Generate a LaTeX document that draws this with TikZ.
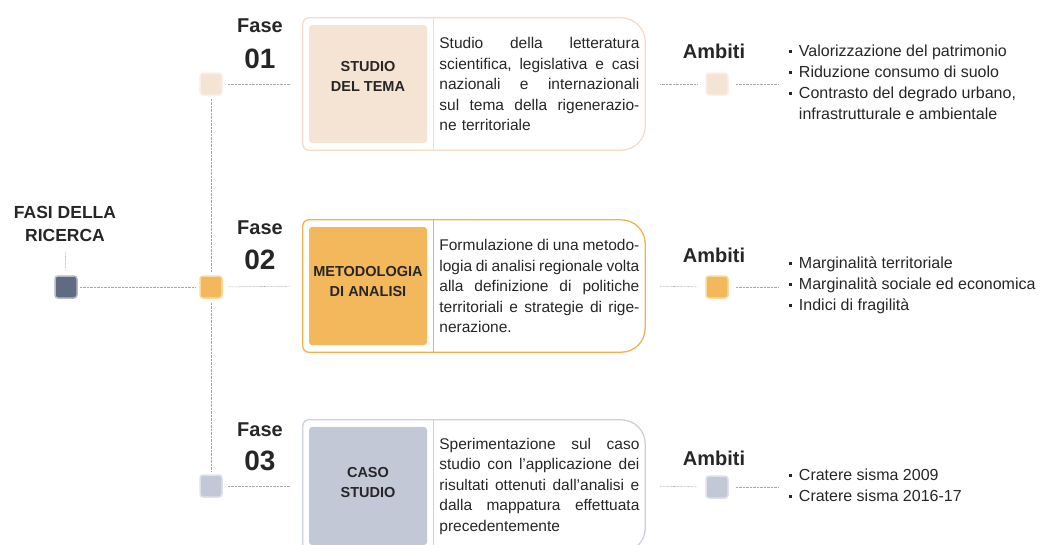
\documentclass[tikz,border=0pt]{standalone}
\usepackage{fontspec}
\setmainfont{Liberation Sans}
\usetikzlibrary{positioning}

\definecolor{pesca}{HTML}{F5E3D3}
\definecolor{pescabordo}{HTML}{F3DCC8}
\definecolor{pescachiaro}{HTML}{FBF0E7}
\definecolor{arancio}{HTML}{F2B85B}
\definecolor{aranciobordo}{HTML}{F0B24E}
\definecolor{aranciochiaro}{HTML}{F9DA9E}
\definecolor{grigio}{HTML}{C3C8D6}
\definecolor{grigiobordo}{HTML}{CBD0DB}
\definecolor{grigiochiaro}{HTML}{DEE1E9}
\definecolor{ardesia}{HTML}{5F6A83}
\definecolor{ardesiachiaro}{HTML}{B3B9C7}
\definecolor{testo}{HTML}{262626}
\definecolor{punteggiato}{HTML}{A6A6A6}

\newcommand{\riga}[1]{\makebox[200pt][s]{#1}\\}
\newcommand{\voce}{\makebox[10pt][l]{\rule[0.22em]{3pt}{3pt}}}

\begin{document}
\begin{tikzpicture}[
        x=1pt, y=-1pt,
        % --- stili ---
        every node/.style={text=testo, inner sep=0pt},
        quad/.style={rectangle, rounded corners=3pt, minimum size=22pt, line width=1.5pt},
        cornice/.style={rectangle, minimum width=342pt, minimum height=132pt},
        blocco/.style={rectangle, rounded corners=3pt, minimum width=118pt, minimum height=118pt},
        titolo/.style={align=center, font=\fontsize{14.5}{20}\selectfont\bfseries},
        fase/.style={font=\fontsize{20}{22}\selectfont\bfseries},
        numero/.style={font=\fontsize{28}{30}\selectfont\bfseries},
        ambiti/.style={font=\fontsize{20}{22}\selectfont\bfseries},
        descr/.style={text width=200pt, align=left, font=\fontsize{15.5}{20.5}\selectfont},
        lista/.style={align=left, font=\fontsize{16}{21}\selectfont},
        punti/.style={draw=punteggiato, line width=0.6pt, dash pattern=on 0.7pt off 0.7pt},
        bordo/.style={line width=1.3pt}
        % --------------------
    ]
    \useasboundingbox (0,0) rectangle (1044,544);

    % radice
    \node[align=center, font=\fontsize{17.5}{23}\selectfont\bfseries] (fasi) at (65,224) {FASI DELLA\\RICERCA};
    \node[quad, fill=ardesia, draw=ardesiachiaro] (q0) at (66,287) {};

    % --- Fase 01 ---
    \node[cornice] (f1) at (474,84) {};
    \draw[bordo, draw=pescabordo, rounded corners=6pt] (f1.south) -| (f1.west) |- (f1.north);
    \draw[bordo, draw=pescabordo, rounded corners=24pt] (f1.north) -| (f1.east) |- (f1.south);
    \node[blocco, fill=pesca] (m1) at (368,84) {};
    \node[titolo] (tit1) at (368,76) {STUDIO\\DEL TEMA};
    \coordinate (d1) at ([xshift=6.5pt]m1.east);
    \draw[bordo, draw=pescabordo] (d1 |- f1.north) -- (d1 |- f1.south);
    \node[descr, right=12pt of m1] (t1) {\riga{Studio\hfill della\hfill letteratura}\riga{scientifica,\hfill legislativa\hfill e\hfill casi}\riga{nazionali\hfill e\hfill internazionali}\riga{sul\hfill tema\hfill della\hfill rigenerazio-}ne territoriale};
    \node[fase] (fa1) at (260,26) {Fase};
    \node[numero] (n1) at (260,59) {01};
    \node[quad, fill=pesca, draw=pescachiaro] (q1) at (211,84) {};
    \node[quad, fill=pesca, draw=pescachiaro] (a1) at (717,84) {};
    \node[ambiti] (am1) at (714,51) {Ambiti};
    \node[lista, right=60pt of a1, yshift=1.5pt] (l1) {\voce Valorizzazione del patrimonio\\\voce Riduzione consumo di suolo\\\voce Contrasto del degrado urbano,\\\hspace*{10pt}infrastrutturale e ambientale};

    % --- Fase 02 ---
    \node[cornice] (f2) at (474,286) {};
    \draw[bordo, draw=aranciobordo, rounded corners=6pt] (f2.south) -| (f2.west) |- (f2.north);
    \draw[bordo, draw=aranciobordo, rounded corners=24pt] (f2.north) -| (f2.east) |- (f2.south);
    \node[blocco, fill=arancio] (m2) at (368,286) {};
    \node[titolo] (tit2) at (368,282) {METODOLOGIA\\DI ANALISI};
    \coordinate (d2) at ([xshift=6.5pt]m2.east);
    \draw[bordo, draw=aranciobordo] (d2 |- f2.north) -- (d2 |- f2.south);
    \node[descr, right=12pt of m2] (t2) {\riga{Formulazione\hfill di\hfill una\hfill metodo-}\riga{logia\hfill di\hfill analisi\hfill regionale\hfill volta}\riga{alla\hfill definizione\hfill di\hfill politiche}\riga{territoriali\hfill e\hfill strategie\hfill di\hfill rige-}nerazione.};
    \node[fase] (fa2) at (260,228) {Fase};
    \node[numero] (n2) at (260,260) {02};
    \node[quad, fill=arancio, draw=aranciochiaro] (q2) at (211,287) {};
    \node[quad, fill=arancio, draw=aranciochiaro] (a2) at (717,287) {};
    \node[ambiti] (am2) at (714,255) {Ambiti};
    \node[lista, right=60pt of a2, yshift=2pt] (l2) {\voce Marginalità territoriale\\\voce Marginalità sociale ed economica\\\voce Indici di fragilità};

    % --- Fase 03 ---
    \node[cornice] (f3) at (474,486) {};
    \draw[bordo, draw=grigiobordo, rounded corners=6pt] (f3.south) -| (f3.west) |- (f3.north);
    \draw[bordo, draw=grigiobordo, rounded corners=24pt] (f3.north) -| (f3.east) |- (f3.south);
    \node[blocco, fill=grigio] (m3) at (368,486) {};
    \node[titolo] (tit3) at (368,483) {CASO\\STUDIO};
    \coordinate (d3) at ([xshift=6.5pt]m3.east);
    \draw[bordo, draw=grigiobordo] (d3 |- f3.north) -- (d3 |- f3.south);
    \node[descr, right=12pt of m3] (t3) {\riga{Sperimentazione\hfill sul\hfill caso}\riga{studio\hfill con\hfill l’applicazione\hfill dei}\riga{risultati\hfill ottenuti\hfill dall’analisi\hfill e}\riga{dalla\hfill mappatura\hfill effettuata}precedentemente};
    \node[fase] (fa3) at (260,430) {Fase};
    \node[numero] (n3) at (260,461) {03};
    \node[quad, fill=grigio, draw=grigiochiaro] (q3) at (211,486) {};
    \node[quad, fill=grigio, draw=grigiochiaro] (a3) at (717,487) {};
    \node[ambiti] (am3) at (714,458) {Ambiti};
    \node[lista, right=60pt of a3, yshift=2pt] (l3) {\voce Cratere sisma 2009\\\voce Cratere sisma 2016-17};

    % collegamenti
    \draw[punti, shorten <=10pt, shorten >=4pt] (fasi.south) -- (q0.north);
    \draw[punti, shorten <=2pt, shorten >=4pt] (q0.east) -- (q2.west);
    \draw[punti, shorten <=3pt, shorten >=4pt] (q1.south) -- (q2.north);
    \draw[punti, shorten <=4pt, shorten >=3pt] (q2.south) -- (q3.north);
    \draw[punti, shorten <=5pt, shorten >=13pt] (q1.east) -- (f1.west);
    \draw[punti, shorten <=5pt, shorten >=13pt] (q2.east) -- (f2.west);
    \draw[punti, shorten <=5pt, shorten >=13pt] (q3.east) -- (f3.west);
    \draw[punti, shorten <=15pt, shorten >=8pt] (f1.east) -- (a1.west);
    \draw[punti, shorten <=15pt, shorten >=8pt] (f2.east) -- (a2.west);
    \draw[punti, shorten <=15pt, shorten >=8pt] (f3.east) -- (a3.west);
    \draw[punti, shorten <=7pt, shorten >=10pt] (a1.east) -- (l1.west |- a1);
    \draw[punti, shorten <=7pt, shorten >=10pt] (a2.east) -- (l2.west |- a2);
    \draw[punti, shorten <=7pt, shorten >=10pt] (a3.east) -- (l3.west |- a3);
\end{tikzpicture}
\end{document}
